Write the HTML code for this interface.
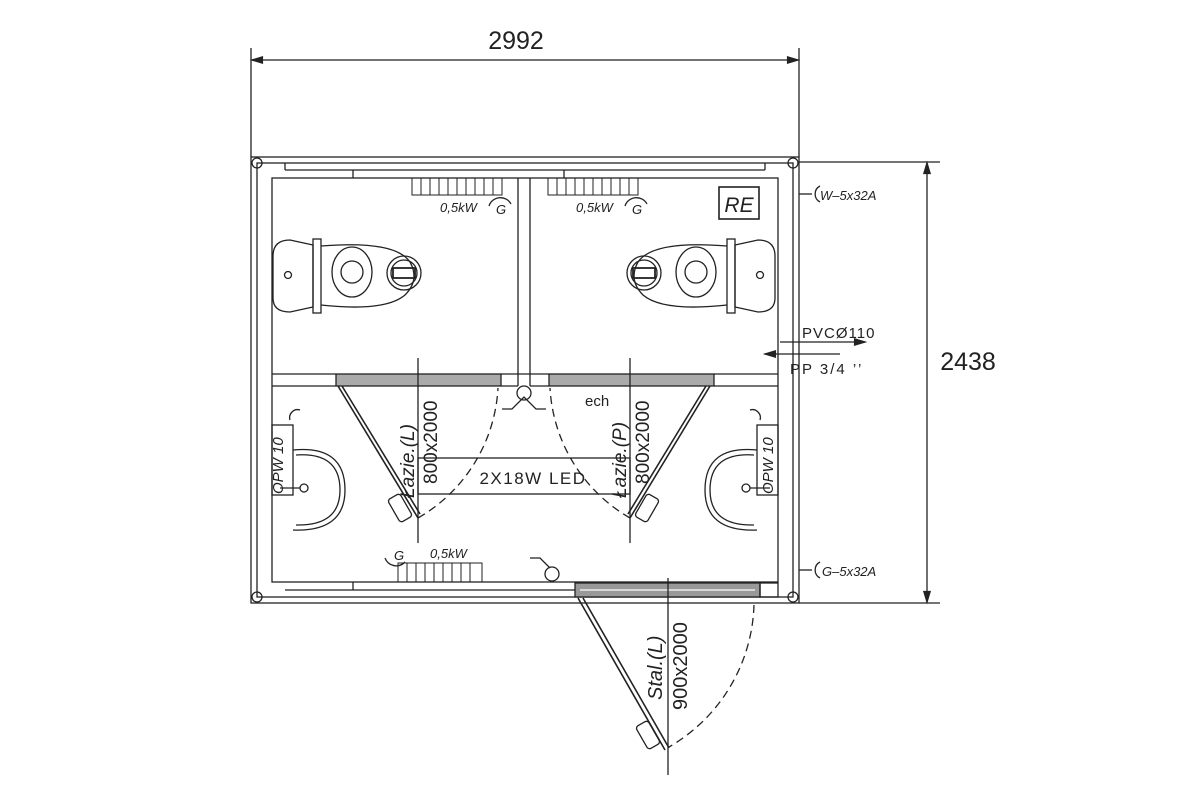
<!DOCTYPE html><html><head><style>body{margin:0;background:#fff}svg{display:block}text{font-family:"Liberation Sans",sans-serif;fill:#222}</style></head><body>
<svg width="1200" height="800" viewBox="0 0 1200 800" xmlns="http://www.w3.org/2000/svg" stroke="#222" fill="none" stroke-width="1.3">
<defs><marker id="a" viewBox="0 0 10 10" refX="10" refY="5" markerWidth="12" markerHeight="8" orient="auto-start-reverse"><path d="M0,2 L10,5 L0,8z" fill="#222"/></marker></defs>
<!-- top dimension -->
<line x1="251" y1="48" x2="251" y2="157"/><line x1="799" y1="48" x2="799" y2="157"/>
<line x1="252" y1="60" x2="798" y2="60" marker-start="url(#a)" marker-end="url(#a)"/>
<text x="516" y="49" font-size="25" text-anchor="middle" stroke="none">2992</text>
<!-- right dimension -->
<line x1="799" y1="162" x2="940" y2="162"/><line x1="799" y1="603" x2="940" y2="603"/>
<line x1="927" y1="163" x2="927" y2="602" marker-start="url(#a)" marker-end="url(#a)"/>
<text x="968" y="370" font-size="25" text-anchor="middle" stroke="none">2438</text>
<!-- walls -->
<rect x="251" y="157" width="548" height="446"/>
<rect x="257" y="163" width="536" height="434"/>
<rect x="272" y="178" width="506" height="404"/>
<line x1="285" y1="163" x2="285" y2="170"/><line x1="285" y1="170" x2="765" y2="170"/><line x1="765" y1="163" x2="765" y2="170"/>
<line x1="353" y1="170" x2="353" y2="178"/><line x1="564" y1="170" x2="564" y2="178"/>
<line x1="285" y1="590" x2="575" y2="590"/><line x1="353" y1="582" x2="353" y2="590"/>
<circle cx="257" cy="163" r="5"/><circle cx="793" cy="163" r="5"/><circle cx="257" cy="597" r="5"/><circle cx="793" cy="597" r="5"/>
<!-- partitions -->
<line x1="272" y1="374" x2="336" y2="374"/><line x1="272" y1="386" x2="336" y2="386"/>
<line x1="714" y1="374" x2="778" y2="374"/><line x1="714" y1="386" x2="778" y2="386"/>
<line x1="501" y1="374" x2="549" y2="374"/><line x1="501" y1="386" x2="518" y2="386"/><line x1="530" y1="386" x2="549" y2="386"/>
<line x1="518" y1="178" x2="518" y2="386"/><line x1="530" y1="178" x2="530" y2="386"/>
<rect x="336" y="374" width="165" height="12" fill="#aaa"/><rect x="549" y="374" width="165" height="12" fill="#aaa"/>
<!-- heaters -->
<g stroke-width="1"><rect x="412" y="178" width="90" height="17"/><path d="M421 178v17M430 178v17M439 178v17M448 178v17M457 178v17M466 178v17M475 178v17M484 178v17M493 178v17"/>
<rect x="548" y="178" width="90" height="17"/><path d="M557 178v17M566 178v17M575 178v17M584 178v17M593 178v17M602 178v17M611 178v17M620 178v17M629 178v17"/>
<rect x="398" y="563" width="84" height="19"/><path d="M407 563v19M416 563v19M425 563v19M434 563v19M443 563v19M452 563v19M461 563v19M470 563v19"/></g>
<path d="M489 206 a12 12 0 0 1 22 -2"/><path d="M625 206 a12 12 0 0 1 22 -2"/><path d="M385 558 a12 12 0 0 0 20 4"/>
<g stroke="none" font-size="13" font-style="italic"><text x="440" y="212">0,5kW</text><text x="496" y="214">G</text><text x="576" y="212">0,5kW</text><text x="632" y="214">G</text><text x="430" y="558">0,5kW</text><text x="394" y="560">G</text></g>
<rect x="719" y="187" width="40" height="32" stroke-width="1.6"/><text x="739" y="212" font-size="21" font-style="italic" text-anchor="middle" stroke="none">RE</text>
<!-- toilets -->
<g id="t"><path d="M313 245 L290 240 Q273 240 273 256 L273 298 Q273 312 290 312 L313 307 Z"/><rect x="313" y="239" width="8" height="74"/><circle cx="288" cy="275" r="3.5"/>
<path d="M321 246 Q395 240 410 262 Q420 280 405 295 Q385 312 321 305"/><ellipse cx="352" cy="272" rx="20" ry="25"/><ellipse cx="352" cy="272" rx="11" ry="11"/>
<circle cx="404" cy="273" r="17"/><circle cx="404" cy="273" r="13"/><rect x="393" y="268" width="22" height="10" stroke-width="1.8"/></g>
<use href="#t" transform="translate(1048,0) scale(-1,1)"/>
<!-- sinks -->
<g id="s"><rect x="272" y="425" width="21" height="70"/><path d="M293 450 Q345 445 345 490 Q345 532 293 530"/><path d="M296 455 Q340 452 340 490 Q340 526 296 525"/><circle cx="304" cy="488" r="4"/><line x1="280" y1="488" x2="300" y2="488"/><path d="M290 420 a8 8 0 0 1 10 -10"/></g>
<use href="#s" transform="translate(1050,0) scale(-1,1)"/>
<text transform="translate(283,494) rotate(-90)" font-size="15" font-style="italic" stroke="none">OPW 10</text>
<text transform="translate(773,494) rotate(-90)" font-size="15" font-style="italic" stroke="none">OPW 10</text>
<!-- bathroom doors -->
<line x1="418" y1="358" x2="418" y2="543"/><line x1="630" y1="358" x2="630" y2="543"/>
<path d="M338 386 L418 518 M342 386 L420 514" stroke-width="1.6"/><path d="M710 386 L630 518 M706 386 L628 514" stroke-width="1.6"/>
<rect x="393" y="495" width="14" height="26" rx="3" transform="rotate(-30 400 508)"/><rect x="640" y="495" width="14" height="26" rx="3" transform="rotate(30 647 508)"/>
<path d="M418 518 A160 160 0 0 0 498 388" stroke-dasharray="8 5"/><path d="M630 518 A160 160 0 0 1 550 388" stroke-dasharray="8 5"/>
<rect x="418" y="458" width="212" height="36"/>
<text x="533" y="484" font-size="17" text-anchor="middle" stroke="none" letter-spacing="1.5">2X18W LED</text>
<g stroke="none" font-size="19" font-style="italic"><text transform="translate(414,498) rotate(-90)">Łazie.(L)</text><text transform="translate(626,498) rotate(-90)">Łazie.(P)</text></g>
<g stroke="none" font-size="19"><text transform="translate(437,484) rotate(-90)">800x2000</text><text transform="translate(649,484) rotate(-90)">800x2000</text></g>
<text x="585" y="406" font-size="15" stroke="none">ech</text>
<circle cx="524" cy="393" r="7"/><path d="M502 409h10l12-12 12 12h10"/>
<circle cx="552" cy="574" r="7"/><path d="M530 558h10l10 10"/>
<!-- entry door -->
<rect x="575" y="583" width="185" height="14" fill="#999"/><line x1="580" y1="590" x2="755" y2="590" stroke="#fff"/>
<rect x="760" y="583" width="18" height="14"/>
<line x1="668" y1="578" x2="668" y2="775"/>
<path d="M578 598 L665 750 M583 598 L669 748" stroke-width="1.6"/>
<rect x="641" y="722" width="14" height="26" rx="3" transform="rotate(-30 648 735)"/>
<path d="M754 605 A170 170 0 0 1 669 747" stroke-dasharray="8 5"/>
<text transform="translate(662,700) rotate(-90)" font-size="20" font-style="italic" stroke="none">Stal.(L)</text>
<text transform="translate(687,710) rotate(-90)" font-size="20" stroke="none">900x2000</text>
<!-- services -->
<line x1="799" y1="194" x2="812" y2="194"/><path d="M820 186 a9 9 0 0 0 0 16"/><text x="820" y="200" font-size="13" font-style="italic" stroke="none">W–5x32A</text>
<line x1="799" y1="570" x2="812" y2="570"/><path d="M820 562 a9 9 0 0 0 0 16"/><text x="822" y="576" font-size="13" font-style="italic" stroke="none">G–5x32A</text>
<text x="802" y="338" font-size="15" stroke="none" letter-spacing="1">PVCØ110</text>
<line x1="780" y1="342" x2="865" y2="342" marker-end="url(#a)"/>
<line x1="840" y1="354" x2="765" y2="354" marker-end="url(#a)"/>
<text x="790" y="374" font-size="15" stroke="none" letter-spacing="2">PP 3/4 ’’</text>
</svg></body></html>
